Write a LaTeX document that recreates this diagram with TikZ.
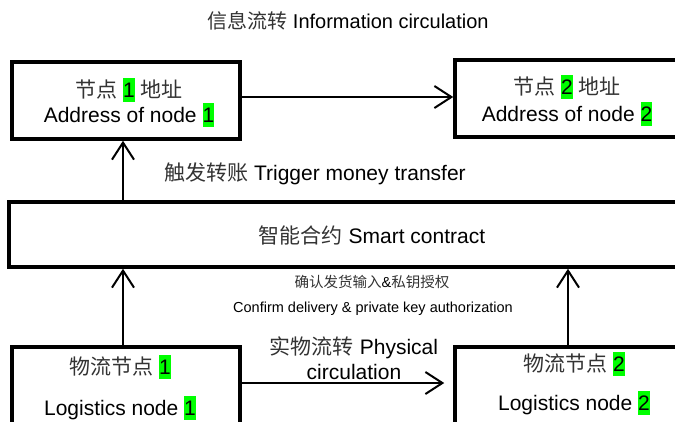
\documentclass[tikz,border=0pt]{standalone}
\usepackage{fontspec}
\setmainfont{Liberation Sans}
\newfontfamily\cjkfont{Noto Sans CJK SC}
\usetikzlibrary{arrows.meta}
\definecolor{hlgreen}{RGB}{0,255,0}
% Chinese text and highlighted node numbers
\newcommand{\zh}[1]{{\cjkfont\color{black!80}#1}}
\newcommand{\hlnum}[1]{{\setlength{\fboxsep}{0pt}\colorbox{hlgreen}{\rule[-0.22em]{0pt}{1.15em}#1}}}

\begin{document}
\begin{tikzpicture}[x=1pt,y=-1pt,
  box/.style={draw, line width=3.5pt, rectangle, inner sep=0pt, fill=white},
  arr/.style={line width=2pt, -{Straight Barb[length=17pt,width=22pt]}},
  lbl/.style={inner sep=0pt, align=center},
  big/.style={font=\fontsize{21}{25}\selectfont},
  small/.style={font=\fontsize{14.5}{17}\selectfont}]

\path[use as bounding box] (0,0) rectangle (675,421);
\fill[white] (0,0) rectangle (675,421);
\clip (0,0) rectangle (675,421);

% boxes (the right-hand ones run past the page edge)
\node[box, minimum width=228pt, minimum height=77pt] (b1) at (126,100.5) {};
\node[box, minimum width=235pt, minimum height=77pt] (b2) at (572.5,98.5) {};
\node[box, minimum width=681pt, minimum height=65pt] (ct) at (349.5,234.5) {};
\node[box, minimum width=228pt, minimum height=81pt] (l1) at (126,387.5) {};
\node[box, minimum width=235pt, minimum height=93pt] (l2) at (572.5,393.5) {};

% box texts
\node[lbl, font=\fontsize{21}{25}\selectfont] (t1) at (129,102.5)
  {\zh{节点} \hlnum{1} \zh{地址}\\ Address of node \hlnum{1}};
\node[lbl, font=\fontsize{21}{27}\selectfont] (t2) at (567,100.5)
  {\zh{节点} \hlnum{2} \zh{地址}\\ Address of node \hlnum{2}};
\node[lbl, big] (tc) at (372,235) {\zh{智能合约} Smart contract};
\node[lbl, font=\fontsize{21}{41}\selectfont] (tl1) at (120,387.5)
  {\zh{物流节点} \hlnum{1}\\ Logistics node \hlnum{1}};
\node[lbl, font=\fontsize{21}{39}\selectfont] (tl2) at (574,383.5)
  {\zh{物流节点} \hlnum{2}\\ Logistics node \hlnum{2}};

% free labels
\node[lbl, font=\fontsize{20}{24}\selectfont] (title) at (348,21)
  {\zh{信息流转} Information circulation};
\node[lbl, big] (trig) at (315,174) {\zh{触发转账} Trigger money transfer};
\node[lbl, small] (conf1) at (372,282) {\zh{确认发货输入}\&\zh{私钥授权}};
\node[lbl, small] (conf2) at (373,309) {Confirm delivery \& private key authorization};
\node[lbl, big] (phys) at (354,358.5) {\zh{实物流转} Physical\\ circulation};

% connector positions
\coordinate (xl) at (123,0);
\coordinate (xr) at (568,0);
\coordinate (yinfo) at (0,97);
\coordinate (yphys) at (0,383);

% connectors
\draw[arr] (b1.east |- yinfo) -- (b2.west |- yinfo);
\draw[arr] (xl |- ct.north) -- (xl |- b1.south);
\draw[arr] (xl |- l1.north) -- (xl |- ct.south);
\draw[arr] (xr |- l2.north) -- (xr |- ct.south);
\draw[arr, shorten >=9pt] (l1.east |- yphys) -- (l2.west |- yphys);
\end{tikzpicture}
\end{document}
